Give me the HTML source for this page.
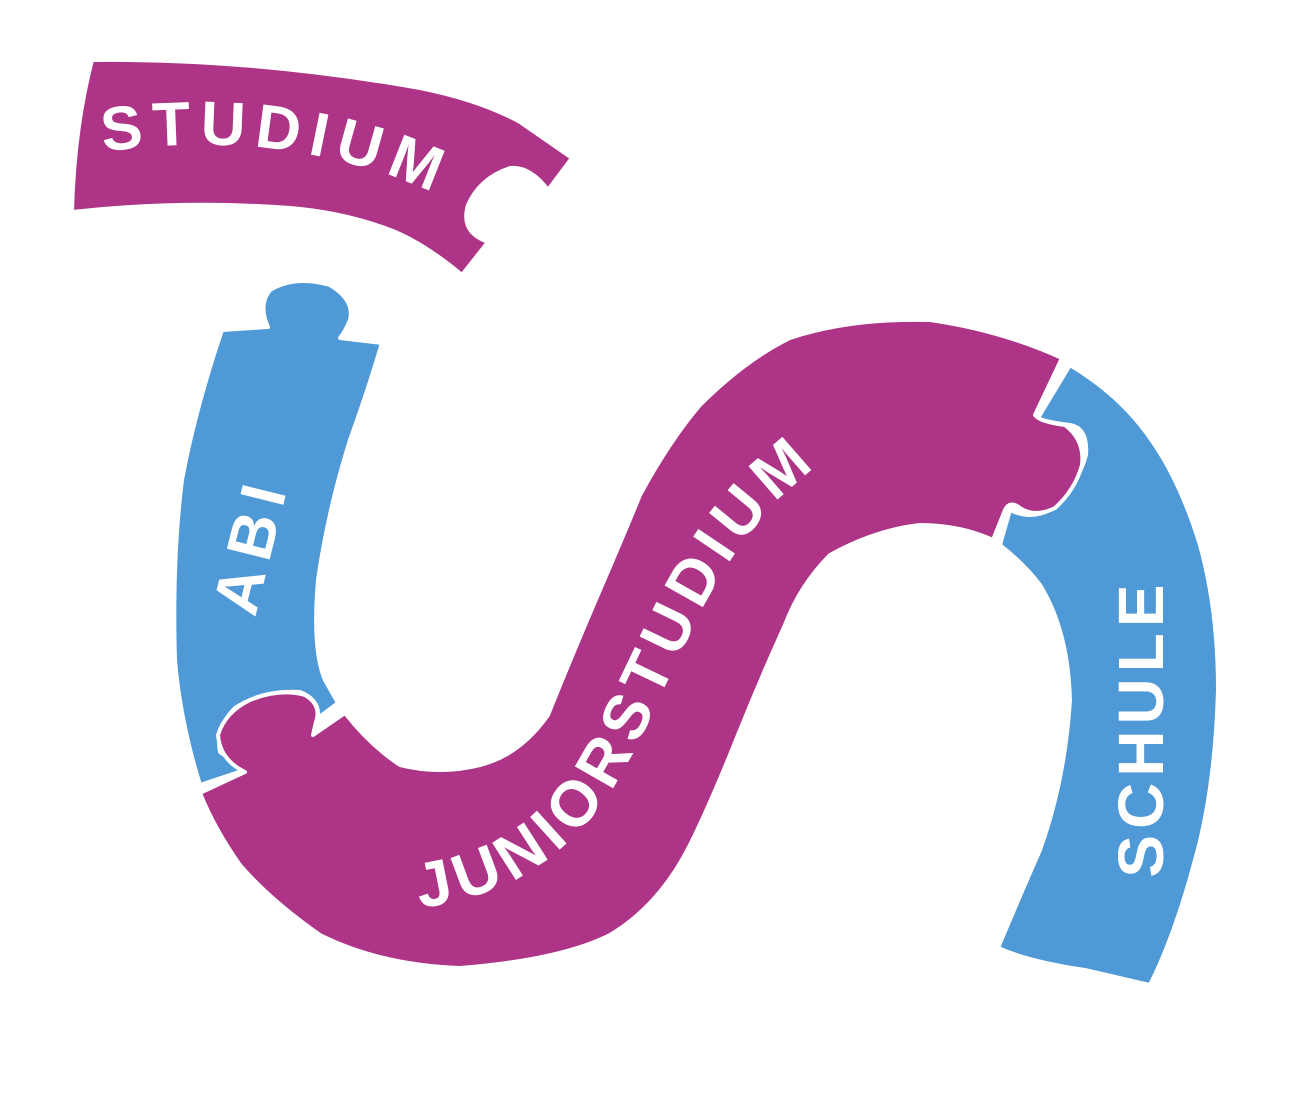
<!DOCTYPE html>
<html><head><meta charset="utf-8"><style>
html,body{margin:0;padding:0;background:#fff;}
svg{display:block}
text{font-family:"Liberation Sans",sans-serif;font-weight:bold;fill:#fff;}
</style></head><body>
<svg width="1300" height="1095" viewBox="0 0 1300 1095" xmlns="http://www.w3.org/2000/svg">
<defs>
<path id="p1" d="M103 152 Q 290 125 445 198"/>
<path id="p2" d="M420 908 C 585 885, 625 770, 668 680 S 760 465, 920 415"/>
</defs>
<!-- STUDIUM -->
<path fill="#AD3487" stroke="#fff" stroke-width="4" stroke-linejoin="round" d="M92 60 Q 250 58 420 88 Q 480 100 520 122 L572 158 L548 190 Q 530 166 510 168 Q 480 178 468 205 Q 460 232 488 242 L462 275 Q 420 240 385 228 Q 340 212 290 208 Q 180 200 72 212 Q 74 130 92 60 Z"/>
<text font-size="62" letter-spacing="9"><textPath href="#p1">STUDIUM</textPath></text>
<!-- ABI -->
<path fill="#4E99D6" stroke="#fff" stroke-width="4" stroke-linejoin="round" d="M222 330 L268 327 Q 258 305 270 290 Q 295 275 330 285 Q 355 300 350 320 Q 345 332 340 338 L382 343 Q 368 390 350 440 Q 328 510 318 580 Q 312 650 325 680 L338 703 L318 718 Q 320 700 300 692 Q 262 690 235 708 Q 215 728 220 752 L245 770 L200 785 Q 180 720 175 660 Q 172 560 182 480 Q 195 410 222 330 Z"/>
<text font-size="64" letter-spacing="10" transform="translate(272,550) rotate(-76)" text-anchor="middle">ABI</text>
<!-- SCHULE -->
<path fill="#4E99D6" stroke="#fff" stroke-width="4" stroke-linejoin="round" d="M1070 365 Q 1120 395 1150 438 Q 1180 480 1200 545 Q 1218 610 1218 690 Q 1215 790 1195 860 Q 1175 935 1150 985 L1085 970 Q 1030 962 998 948 Q 1018 900 1040 850 Q 1065 780 1070 700 Q 1068 630 1040 585 Q 1025 565 1000 545 L1010 510 Q 1030 520 1050 510 Q 1078 485 1086 455 Q 1088 428 1070 425 Q 1045 422 1038 418 Z"/>
<text font-size="64" letter-spacing="6" transform="translate(1163,728) rotate(-90)" text-anchor="middle">SCHULE</text>
<!-- JUNIORSTUDIUM -->
<path fill="#AD3487" stroke="#fff" stroke-width="4" stroke-linejoin="round" d="M200 793 L245 772 Q 220 760 218 735 Q 225 712 250 700 Q 280 688 305 695 Q 322 705 316 722 L313 735 L345 713 Q 370 745 400 765 Q 440 775 480 765 Q 520 755 548 715 Q 570 660 600 590 Q 630 520 640 495 Q 670 440 700 405 Q 745 360 790 338 Q 850 318 930 320 Q 1000 330 1062 358 L1035 415 Q 1040 422 1065 425 Q 1085 440 1082 465 Q 1075 490 1055 508 Q 1035 518 1020 508 Q 1010 500 1005 510 L993 540 Q 960 525 920 525 Q 875 530 830 555 Q 800 585 785 625 Q 760 680 738 735 Q 710 805 690 845 Q 660 905 610 935 Q 560 960 460 968 Q 380 965 320 935 Q 270 900 240 865 Q 215 830 200 793 Z"/>
<text font-size="64" letter-spacing="7"><textPath href="#p2">JUNIORSTUDIUM</textPath></text>
</svg>
</body></html>
